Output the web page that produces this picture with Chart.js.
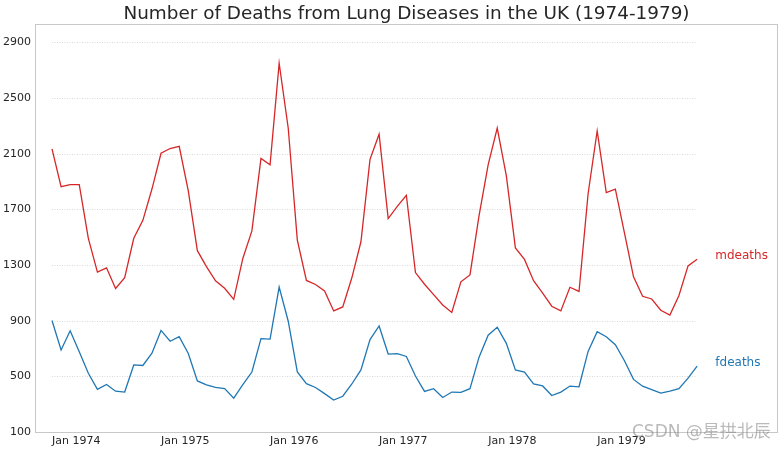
<!DOCTYPE html>
<html>
<head>
<meta charset="utf-8">
<script src="https://cdn.jsdelivr.net/npm/chart.js@4.4.0/dist/chart.umd.min.js"></script>
<style>
  body { margin: 0; background: #fff; }
  canvas { display: block; }
</style>
</head>
<body>
<canvas id="myChart" width="784" height="451"></canvas>
<script>
const months = [];
for (let y = 1974; y <= 1979; y++) {
  for (let m = 0; m < 12; m++) months.push(y + '-' + (m + 1));
}
const yearTicks = ['Jan 1974', 'Jan 1975', 'Jan 1976', 'Jan 1977', 'Jan 1978', 'Jan 1979'];
const yTicks = [100, 500, 900, 1300, 1700, 2100, 2500, 2900];

const mdeaths = [
  2134, 1863, 1877, 1877, 1492, 1249, 1280, 1131, 1209, 1492, 1621, 1846,
  2103, 2137, 2153, 1833, 1403, 1288, 1186, 1133, 1053, 1347, 1545, 2066,
  2020, 2750, 2283, 1479, 1189, 1160, 1113, 970, 999, 1208, 1467, 2059,
  2240, 1634, 1722, 1801, 1246, 1162, 1087, 1013, 959, 1179, 1229, 1655,
  2019, 2284, 1942, 1423, 1340, 1187, 1098, 1004, 970, 1140, 1110, 1812,
  2263, 1820, 1846, 1531, 1215, 1075, 1056, 975, 940, 1081, 1294, 1341
];
const fdeaths = [
  901, 689, 827, 677, 522, 406, 441, 393, 387, 582, 578, 666,
  830, 752, 785, 664, 467, 438, 421, 412, 343, 440, 531, 771,
  767, 1141, 896, 532, 447, 420, 376, 330, 357, 445, 546, 764,
  862, 660, 663, 643, 502, 392, 411, 348, 387, 385, 411, 638,
  796, 853, 737, 546, 530, 446, 431, 362, 387, 430, 425, 679,
  821, 785, 727, 612, 478, 429, 405, 379, 393, 411, 487, 574
];

const red = '#d62728';
const blue = '#1f77b4';
const titleText = 'Number of Deaths from Lung Diseases in the UK (1974-1979)';

// grid lines (only over the data span), frame, title, end labels, watermark
const decor = {
  id: 'decor',
  beforeDatasetsDraw(chart) {
    const c = chart.ctx, xs = chart.scales.x, ys = chart.scales.y;
    const x0 = xs.getPixelForValue(0), x1 = xs.getPixelForValue(months.length - 1);
    c.save();
    c.strokeStyle = '#d9d9d9';
    c.lineWidth = 1;
    c.setLineDash([1, 1.5]);
    yTicks.forEach(function(v){
      if (v === 100) return;
      const py = Math.round(ys.getPixelForValue(v)) + 0.5;
      c.beginPath(); c.moveTo(x0, py); c.lineTo(x1, py); c.stroke();
    });
    c.restore();
  },
  afterDraw(chart) {
    const c = chart.ctx, a = chart.chartArea, xs = chart.scales.x, ys = chart.scales.y;
    c.save();
    c.strokeStyle = '#c8c8c8';
    c.lineWidth = 1;
    c.strokeRect(a.left + 0.5, a.top + 0.5, a.right - a.left - 1, a.bottom - a.top);

    c.font = '18.4px "DejaVu Sans"';
    c.fillStyle = '#262626';
    c.textAlign = 'center';
    c.textBaseline = 'middle';
    c.fillText(titleText, (a.left + a.right) / 2, 14);

    c.font = '12px "DejaVu Sans"';
    c.textAlign = 'left';
    const lx = xs.getPixelForValue(months.length + 1);
    c.fillStyle = red;
    c.fillText('mdeaths', lx, ys.getPixelForValue(mdeaths[mdeaths.length - 1]) - 3);
    c.fillStyle = blue;
    c.fillText('fdeaths', lx, ys.getPixelForValue(fdeaths[fdeaths.length - 1]) - 3);
    c.font = '17px "DejaVu Sans", "Noto Sans CJK SC"';
    c.fillStyle = 'rgba(130,130,130,0.55)';
    c.fillText('CSDN @星拱北辰', 632, 433);
    c.restore();
  }
};

const ctx = document.getElementById('myChart');
new Chart(ctx, {
  type: 'line',
  data: {
    datasets: [{
      label: 'mdeaths',
      data: mdeaths.map(function(v, i){ return {x: i, y: v}; }),
      borderColor: red,
      borderWidth: 1.3,
      pointRadius: 0,
      tension: 0
    }, {
      label: 'fdeaths',
      data: fdeaths.map(function(v, i){ return {x: i, y: v}; }),
      borderColor: blue,
      borderWidth: 1.3,
      pointRadius: 0,
      tension: 0
    }]
  },
  plugins: [decor],
  options: {
    responsive: false,
    animation: false,
    layout: { padding: { left: 0, right: 6, top: 24, bottom: 0 } },
    plugins: {
      legend: { display: false },
      tooltip: { enabled: false },
      title: { display: false }
    },
    scales: {
      x: {
        type: 'linear',
        min: -1.87,
        max: 79.9,
        grid: { display: false, drawTicks: false },
        border: { display: false },
        afterBuildTicks: function(scale){
          scale.ticks = yearTicks.map(function(t, i){ return {value: i * 12}; });
        },
        afterFit: function(scale){ scale.height = 19; },
        ticks: {
          align: 'start',
          maxRotation: 0,
          autoSkip: false,
          padding: 3,
          color: '#262626',
          font: { family: '"DejaVu Sans"', size: 11 },
          callback: function(v){ return yearTicks[v / 12]; }
        }
      },
      y: {
        min: 100,
        max: 3032,
        grid: { display: false, drawTicks: false },
        border: { display: false },
        afterBuildTicks: function(scale){
          scale.ticks = yTicks.map(function(v){ return {value: v}; });
        },
        afterFit: function(scale){ scale.width = 35; },
        ticks: {
          padding: 4,
          color: '#262626',
          font: { family: '"DejaVu Sans"', size: 11 },
          callback: function(v){ return String(v); }
        }
      }
    }
  }
});
</script>
</body>
</html>
